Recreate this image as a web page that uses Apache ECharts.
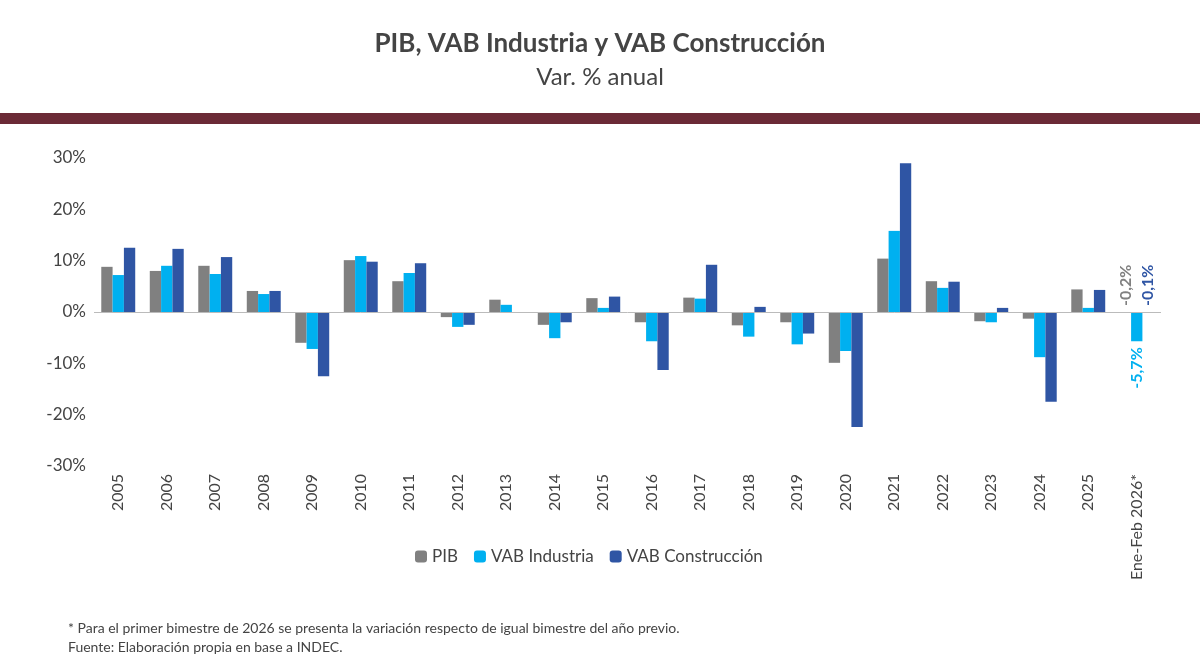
<!DOCTYPE html>
<html><head><meta charset="utf-8">
<script src="https://cdn.jsdelivr.net/npm/echarts@6/dist/echarts.min.js"></script>
<style>body{margin:0;background:#fff}#c{width:1200px;height:670px}</style>
</head><body><div id="c"></div>
<script>
const categories=['2005','2006','2007','2008','2009','2010','2011','2012','2013','2014','2015','2016','2017','2018','2019','2020','2021','2022','2023','2024','2025','Ene-Feb 2026*'];
const pib=[8.8,8.0,9.0,4.1,-6.0,10.1,6.0,-1.0,2.4,-2.5,2.7,-2.0,2.8,-2.6,-2.0,-9.9,10.4,6.0,-1.8,-1.3,4.4,-0.2];
const industria=[7.2,9.0,7.4,3.5,-7.2,10.9,7.6,-2.9,1.4,-5.1,0.8,-5.7,2.6,-4.8,-6.3,-7.6,15.8,4.7,-2.0,-8.8,0.8,-5.7];
const construccion=[12.5,12.3,10.7,4.1,-12.5,9.8,9.5,-2.5,-0.1,-2.0,3.0,-11.3,9.2,1.0,-4.2,-22.4,29.0,5.9,0.8,-17.5,4.3,-0.1];
const yTicks=[-30,-20,-10,0,10,20,30];
const colors=['#808080','#00b0f0','#2f55a4'];
const fmt=v=>v.toFixed(1).replace('.',',')+'%';
function mk(arr,color,pos){
  return arr.map((v,i)=>i===arr.length-1?{value:v,label:{show:true,position:pos,rotate:90,align:pos==='top'?'left':'right',verticalAlign:'middle',distance:6,color:color,fontWeight:'bold',fontSize:16,fontFamily:'Lato',formatter:()=>fmt(v)}}:v);
}
const chart=echarts.init(document.getElementById('c'));
chart.setOption({
  animation:false,
  title:[{text:'PIB, VAB Industria y VAB Construcción',left:'center',top:26,textStyle:{fontSize:26,fontWeight:'bold',color:'#444',fontFamily:'Lato'}},
         {text:'Var. % anual',left:'center',top:60,textStyle:{fontSize:24,fontWeight:'normal',color:'#444',fontFamily:'Lato'}}],
  graphic:[{type:'rect',shape:{x:0,y:113,width:1200,height:11},style:{fill:'#6b2a36'}},
    {type:'text',left:68,top:619,style:{text:'* Para el primer bimestre de 2026 se presenta la variación respecto de igual bimestre del año previo.\nFuente: Elaboración propia en base a INDEC.',fontSize:14,lineHeight:19,fill:'#444',fontFamily:'Lato'}}],
  legend:{bottom:100,left:410,itemWidth:12,itemHeight:12,itemGap:16,textStyle:{fontSize:17,color:'#444',fontFamily:'Lato'},data:['PIB','VAB Industria','VAB Construcción']},
  grid:{left:94,right:39,top:158,bottom:204},
  xAxis:{type:'category',data:categories,axisTick:{show:false},axisLine:{show:false},axisLabel:{rotate:90,fontSize:16,color:'#444',fontFamily:'Lato',interval:0}},
  yAxis:{type:'value',min:-30,max:30,interval:10,splitLine:{show:false},axisLabel:{fontSize:17,color:'#444',fontFamily:'Lato',formatter:v=>v+'%'}},
  series:[
    {name:'PIB',type:'bar',data:mk(pib,colors[0],'top'),itemStyle:{color:colors[0]},barGap:'0%',barCategoryGap:'30%',
     markLine:{silent:true,symbol:'none',label:{show:false},lineStyle:{color:'#bbb',type:'solid',width:1},data:[{yAxis:0}]}},
    {name:'VAB Industria',type:'bar',data:mk(industria,colors[1],'bottom'),itemStyle:{color:colors[1]},barGap:'0%'},
    {name:'VAB Construcción',type:'bar',data:mk(construccion,colors[2],'top'),itemStyle:{color:colors[2]},barGap:'0%'}
  ]
});
</script></body></html>
